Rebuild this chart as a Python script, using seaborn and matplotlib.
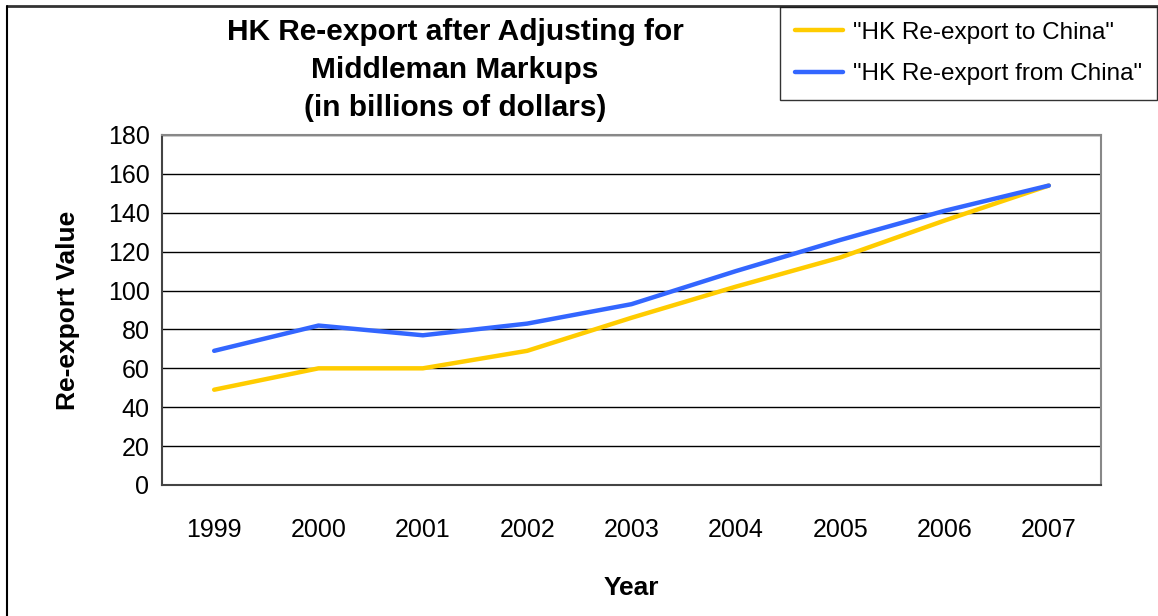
import matplotlib
matplotlib.use("Agg")
import matplotlib.pyplot as plt
import seaborn as sns
import pandas as pd
from matplotlib.lines import Line2D

# values
years = ["1999", "2000", "2001", "2002", "2003", "2004", "2005", "2006", "2007"]
to_china = [49, 60, 60, 69, 86, 102, 117, 136, 154]
from_china = [69, 82, 77, 83, 93, 110, 126, 141, 154]
series_names = ['"HK Re-export to China"', '"HK Re-export from China"']

df = pd.DataFrame({
    "Year": years * 2,
    "Value": to_china + from_china,
    "Series": [series_names[0]] * len(years) + [series_names[1]] * len(years),
})

sns.set_style("white")
plt.rcParams["font.family"] = ["Liberation Sans", "DejaVu Sans"]
plt.rcParams["text.color"] = "black"
plt.rcParams["axes.labelcolor"] = "black"
plt.rcParams["xtick.color"] = "black"
plt.rcParams["ytick.color"] = "black"

W, H = 1158, 616
fig = plt.figure(figsize=(W / 100, H / 100), dpi=100)
ax = fig.add_axes([162 / W, 1 - 485 / H, (1101 - 162) / W, (485 - 135) / H])

sns.lineplot(data=df, x="Year", y="Value", hue="Series",
             palette=["#FFCC00", "#3366FF"], linewidth=3.2, ax=ax,
             legend=False, sort=False)

ax.set_ylim(0, 180)
ax.set_yticks(range(0, 181, 20))
ax.set_xlim(-0.5, len(years) - 0.5)
ax.set_xticks([i - 0.5 for i in range(len(years) + 1)])
ax.set_xticklabels([])
ax.set_xticks(range(len(years)), minor=True)
ax.set_xticklabels(years, minor=True)
ax.tick_params(axis="x", which="major", length=8, width=1, color="black", direction="out")
ax.tick_params(axis="x", which="minor", length=0, labelsize=18, pad=24)
ax.tick_params(axis="y", length=6, width=1, color="#555555", direction="out",
               labelsize=18, pad=3)
ax.grid(axis="y", color="black", linewidth=1)
ax.set_axisbelow(True)

for side in ["top", "right"]:
    ax.spines[side].set_color("#888888")
    ax.spines[side].set_linewidth(1.5)
for side in ["left", "bottom"]:
    ax.spines[side].set_color("#444444")
    ax.spines[side].set_linewidth(1.5)

ax.set_xlabel("Year", fontsize=19, fontweight="bold", labelpad=24)
ax.set_ylabel("Re-export Value", fontsize=19, fontweight="bold", labelpad=20)

fig.text(455 / W, 1 - 70 / H,
         "HK Re-export after Adjusting for\nMiddleman Markups\n(in billions of dollars)",
         ha="center", va="center", fontsize=21.5, fontweight="bold", linespacing=1.45)

handles = [Line2D([], [], color=c, linewidth=3.2) for c in ["#FFCC00", "#3366FF"]]
leg = fig.legend(handles, series_names, loc="upper left",
                 bbox_to_anchor=(780 / W, 1 - 7 / H), borderaxespad=0, fontsize=17.5,
                 frameon=True, fancybox=False, edgecolor="black",
                 handlelength=2.0, handletextpad=0.4, labelspacing=0.8, borderpad=0.6)
leg.get_frame().set_linewidth(1)

# outer frame: only top and left edges are visible in the reference
fig.add_artist(Line2D([7 / W, 1], [1 - 6 / H, 1 - 6 / H], transform=fig.transFigure,
                      color="#333333", linewidth=2))
fig.add_artist(Line2D([7 / W, 7 / W], [0, 1 - 6 / H], transform=fig.transFigure,
                      color="black", linewidth=1.5))

fig.savefig("out.png", dpi=100)
